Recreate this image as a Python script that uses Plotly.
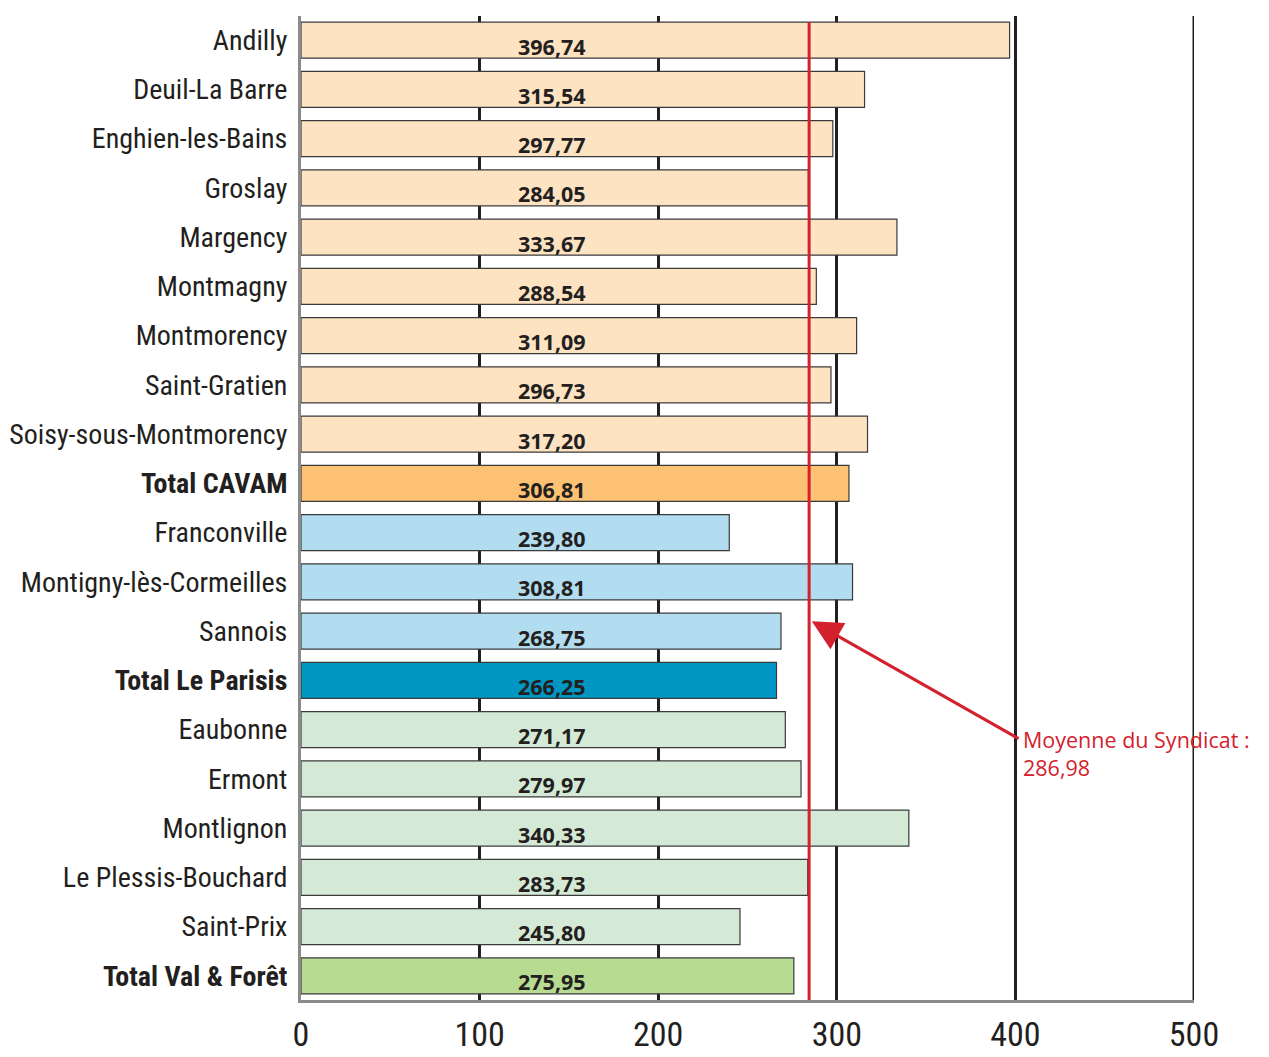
import plotly.graph_objects as go

communes = [
    "Andilly", "Deuil-La Barre", "Enghien-les-Bains", "Groslay", "Margency",
    "Montmagny", "Montmorency", "Saint-Gratien", "Soisy-sous-Montmorency",
    "Total CAVAM", "Franconville", "Montigny-lès-Cormeilles", "Sannois",
    "Total Le Parisis", "Eaubonne", "Ermont", "Montlignon",
    "Le Plessis-Bouchard", "Saint-Prix", "Total Val & Forêt",
]
values = [
    396.74, 315.54, 297.77, 284.05, 333.67,
    288.54, 311.09, 296.73, 317.20,
    306.81, 239.80, 308.81, 268.75,
    266.25, 271.17, 279.97, 340.33,
    283.73, 245.80, 275.95,
]
groups = ["cavam"] * 9 + ["cavam_total"] + ["parisis"] * 3 + ["parisis_total"] + ["vf"] * 5 + ["vf_total"]
totals = {"Total CAVAM", "Total Le Parisis", "Total Val & Forêt"}

moyenne_label = "286,98"
moyenne_line = 284.5  # position du trait rouge
x_ticks = [0, 100, 200, 300, 400, 500]

colors = {
    "cavam": "#FDE3C2", "cavam_total": "#FDC173",
    "parisis": "#B2DCEF", "parisis_total": "#0096C3",
    "vf": "#D5EAD6", "vf_total": "#B8DB92",
}
RED = "#D3212D"
DARK = "#231F20"
COND = "Roboto Condensed, sans-serif"


def fr(v):
    return f"{v:.2f}".replace(".", ",")


fig = go.Figure()
fig.add_trace(
    go.Bar(
        y=communes,
        x=values,
        orientation="h",
        width=0.73,
        marker=dict(color=[colors[g] for g in groups], line=dict(color="#3a3a3a", width=1.2)),
        hoverinfo="skip",
        showlegend=False,
    )
)

# étiquettes de valeur, toutes alignées au même x
for name, v in zip(communes, values):
    fig.add_annotation(
        x=140.5, y=name, text=f"<b>{fr(v)}</b>", showarrow=False,
        yshift=-6, font=dict(family="Open Sans, sans-serif", size=21.5, color=DARK),
    )

# dernière ligne de grille (500), non tracée par plotly au bord
fig.add_shape(
    type="line", xref="x", yref="paper", x0=x_ticks[-1], x1=x_ticks[-1], y0=0, y1=1,
    line=dict(color=DARK, width=3), layer="below",
)

# trait rouge de la moyenne
fig.add_shape(
    type="line", xref="x", yref="paper", x0=moyenne_line, x1=moyenne_line,
    y0=0, y1=0.994, line=dict(color=RED, width=3), layer="above",
)

# flèche + texte
fig.add_annotation(
    x=moyenne_line + 1.5, y=11.8, ax=402.6, ay=14.2, axref="x", ayref="y",
    xref="x", yref="y", text="", showarrow=True,
    arrowhead=2, arrowsize=2.0, arrowwidth=3, arrowcolor=RED,
)
fig.add_annotation(
    x=402.9, y=14.2, xref="x", yref="y", xanchor="left", yanchor="top", yshift=16,
    text=f"Moyenne du Syndicat :<br>{moyenne_label}", showarrow=False, align="left",
    font=dict(family="Open Sans, sans-serif", size=21.5, color=RED),
)

ticktext = [f"<b>{c}</b>" if c in totals else c for c in communes]

# la page ajoute 8 px de marge autour de la figure
fig.update_layout(
    width=1261, height=1049,
    margin=dict(l=293, r=75, t=8, b=57),
    paper_bgcolor="white", plot_bgcolor="white",
    xaxis=dict(
        range=[0, 500], tickvals=x_ticks, ticktext=[str(t) for t in x_ticks],
        showgrid=True, gridcolor=DARK, gridwidth=3, zeroline=False,
        showline=True, linecolor="#8a8a8a", linewidth=3,
        ticks="", ticklabelstandoff=2, automargin=False,
        tickfont=dict(family=COND, size=34, color=DARK),
    ),
    yaxis=dict(
        categoryorder="array", categoryarray=communes,
        range=[19.49, -0.49], tickvals=communes, ticktext=ticktext,
        showgrid=False, zeroline=False,
        showline=True, linecolor="#8a8a8a", linewidth=3,
        ticks="", ticklabelstandoff=5, automargin=False,
        tickfont=dict(family=COND, size=28, color=DARK),
    ),
)

fig.write_html("out.html")
